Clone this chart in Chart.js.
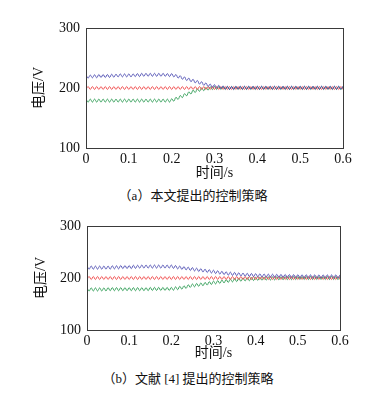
<!DOCTYPE html>
<html>
<head>
<meta charset="utf-8">
<script src="https://cdn.jsdelivr.net/npm/chart.js@4.4.0/dist/chart.umd.min.js"></script>
<style>
body{margin:0;background:#fff;}
#wrap{position:relative;width:379px;height:396px;overflow:hidden;}
canvas{position:absolute;left:0;}
.cap{position:absolute;width:300px;text-align:center;font-family:'Liberation Serif','Noto Sans CJK SC',serif;font-size:13px;line-height:16px;color:#111;white-space:nowrap;}
</style>
</head>
<body>
<div id="wrap">
<canvas id="c1" width="379" height="183" style="top:0px;width:379px;height:183px"></canvas>
<div class="cap" id="capA" style="left:43px;top:188px"></div>
<canvas id="c2" width="379" height="165" style="top:200px;width:379px;height:165px"></canvas>
<div class="cap" id="capB" style="left:38px;top:371px"></div>
</div>
<script>
// ---- data ----
const captionA = '（a）本文提出的控制策略';
const captionB = '（b）文献 [4] 提出的控制策略';
const xTitle = '时间/s';
const yTitle = '电压/V';
const xTicks = [0, 0.1, 0.2, 0.3, 0.4, 0.5, 0.6];
const xTickLabels = ['0', '0.1', '0.2', '0.3', '0.4', '0.5', '0.6'];
const yTicks = [100, 200, 300];
const yTickLabels = ['100', '200', '300'];

const times = [
0,0.005,0.01,0.015,0.02,0.025,0.03,0.035,0.04,0.045,
0.05,0.055,0.06,0.065,0.07,0.075,0.08,0.085,0.09,0.095,
0.1,0.105,0.11,0.115,0.12,0.125,0.13,0.135,0.14,0.145,
0.15,0.155,0.16,0.165,0.17,0.175,0.18,0.185,0.19,0.195,
0.2,0.205,0.21,0.215,0.22,0.225,0.23,0.235,0.24,0.245,
0.25,0.255,0.26,0.265,0.27,0.275,0.28,0.285,0.29,0.295,
0.3,0.305,0.31,0.315,0.32,0.325,0.33,0.335,0.34,0.345,
0.35,0.355,0.36,0.365,0.37,0.375,0.38,0.385,0.39,0.395,
0.4,0.405,0.41,0.415,0.42,0.425,0.43,0.435,0.44,0.445,
0.45,0.455,0.46,0.465,0.47,0.475,0.48,0.485,0.49,0.495,
0.5,0.505,0.51,0.515,0.52,0.525,0.53,0.535,0.54,0.545,
0.55,0.555,0.56,0.565,0.57,0.575,0.58,0.585,0.59,0.595,
0.6];

// (a) proposed strategy
const aBlue = [
221.5,216.5,221.5,217,222,217,222.5,217.5,222.5,217.5,
222.5,217.5,223,218,223,218.5,223.5,218.5,223.5,218.5,
223.5,218.5,223.5,219,224,219,224.5,219.5,224.5,219.5,
224.5,219.5,224.5,219.5,224.5,219.5,224.5,219.5,224,219,
224,218.5,222.5,216.5,220.5,214.5,218.5,212.5,216.5,210.5,
214.5,208.5,212.5,206.5,210.5,204.5,208.5,202.5,206.5,201,
205.5,200,204.5,199,203.5,198,202.8,197.5,202.5,197.5,
203,198,203,198,203,198,203,198,203,198,
203,198,203,198,203,198,203,198,203,198,
203,198,203,198,203,198,203,198,203,198,
203,198,203,198,203,198,203,198,203,198,
203,198,203,198,203,198,203,198,203,198,
203];
const aRed = [
197.5,202.5,197.5,202.5,197.5,202.5,197.5,202.5,197.5,202.5,
197.5,202.5,197.5,202.5,197.5,202.5,197.5,202.5,197.5,202.5,
197.5,202.5,197.5,202.5,197.5,202.5,197.5,202.5,197.5,202.5,
197.5,202.5,197.5,202.5,197.5,202.5,197.5,202.5,197.5,202.5,
197.5,202.5,197.5,202.5,197.5,202.5,197.5,202.5,197.5,202.5,
197.5,202.5,197.5,202.5,197.5,202.5,197.5,202.5,197.5,202.5,
197.5,202.5,197.5,202.5,197.5,202.5,197.5,202.5,197.5,202.5,
197.5,202.5,197.5,202.5,197.5,202.5,197.5,202.5,197.5,202.5,
197.5,202.5,197.5,202.5,197.5,202.5,197.5,202.5,197.5,202.5,
197.5,202.5,197.5,202.5,197.5,202.5,197.5,202.5,197.5,202.5,
197.5,202.5,197.5,202.5,197.5,202.5,197.5,202.5,197.5,202.5,
197.5,202.5,197.5,202.5,197.5,202.5,197.5,202.5,197.5,202.5,
197.5];
const aGreen = [
181.5,176.5,181.5,176.5,181.5,176.5,181.5,176.5,181.5,176.5,
181.5,176.5,181.5,176.5,181.5,176.5,181.5,176.5,181.5,176.5,
181.5,176.5,181.5,176.5,181.5,176.5,181.5,176.5,181.5,176.5,
181.5,176.5,181.5,176.5,181.5,176.5,181.5,176.5,181.5,176.5,
182,178,184.5,181,187.5,184,190.5,187,193.5,190,
196.5,192.5,198.5,194.5,200,195.5,201,196.5,202,197.3,
202.5,197.5,202.5,197.5,202.5,197.5,202.5,197.5,202.5,197.5,
202.5,197.5,202.5,197.5,202.5,197.5,202.5,197.5,202.5,197.5,
202.5,197.5,202.5,197.5,202.5,197.5,202.5,197.5,202.5,197.5,
202.5,197.5,202.5,197.5,202.5,197.5,202.5,197.5,202.5,197.5,
202.5,197.5,202.5,197.5,202.5,197.5,202.5,197.5,202.5,197.5,
202.5,197.5,202.5,197.5,202.5,197.5,202.5,197.5,202.5,197.5,
202.5];

// (b) strategy of ref [4]
const bBlue = [
223,217,223,217,223,217,223,217,223,217,
223,217,223.5,217.5,223.5,217.5,224,218,224,218,
224,218,224.5,218.5,224.5,219,225,219,225,219,
225,219,225,219,225,219,225,219,225,219,
225,218.5,224,217.5,223,216.5,222,215.5,221,214.5,
220,213.5,219,212.5,218,211.5,217,210.5,216,209.5,
215,208.5,214,207.5,213,206.5,212,205.5,211.3,205,
210.7,204.4,210.1,203.8,209.5,203.3,209.1,202.9,208.7,202.5,
208.3,202.1,208,201.8,207.7,201.6,207.5,201.4,207.3,201.2,
207.1,201,207,200.9,206.8,200.7,206.6,200.5,206.5,200.4,
206.4,200.3,206.3,200.2,206.2,200.1,206.1,200,206,200,
206,200,206,200,206,200,206,200,206,200,
206];
const bRed = [
197,203,197,203,197,203,197,203,197,203,
197,203,197,203,197,203,197,203,197,203,
197,203,197,203,197,203,197,203,197,203,
197,203,197,203,197,203,197,203,197,203,
197,203,197,203,197,203,197,203,197,203,
197,203,197,203,197,203,197,203,197,203,
197,203,197,203,197,203,197,203,197,203,
197,203,197,203,197,203,197,203,197,203,
197,203,197,203,197,203,197,203,197,203,
197,203,197,203,197,203,197,203,197,203,
197,203,197,203,197,203,197,203,197,203,
197,203,197,203,197,203,197,203,197,203,
197];
const bGreen = [
181,175,181,175,181,175,181,175,181,175,
181.5,175.5,181.5,175.5,181.5,175.5,181.5,175.5,181.5,175.5,
181.5,175.5,181.5,175.5,181.5,175.5,181.5,175.5,181.5,175.5,
182,176,182,176,182,176,182,176,182,176,
182,176.5,183,177.5,184,178.5,185,180,187,182,
188.5,183,189.5,184,190.5,185,191.5,186.5,193,187.5,
194,188.5,195,189.5,196,190.5,197,191.5,198,192.5,
198.8,193.1,199.4,193.7,200,194.3,200.5,194.7,200.9,195.1,
201.3,195.5,201.6,195.7,201.8,195.9,202,196.1,202.2,196.3,
202.4,196.5,202.5,196.6,202.6,196.7,202.7,196.8,202.8,196.9,
203,197,203,197,203,197,203,197,203,197,
203,197,203,197,203,197,203,197,203,197,
203];

// ---- drawing ----
document.getElementById('capA').textContent = captionA;
document.getElementById('capB').textContent = captionB;

const LATIN = "'Liberation Serif', 'Noto Sans CJK SC', serif";
const boxPlugin = {
  id: 'box',
  afterDraw(chart) {
    const {ctx, chartArea: a} = chart;
    ctx.save();
    ctx.strokeStyle = '#3a3a3a';
    ctx.lineWidth = 1;
    ctx.strokeRect(Math.round(a.left) + 0.5, Math.round(a.top) + 0.5,
                   Math.round(a.right - a.left), Math.round(a.bottom - a.top));
    ctx.restore();
  }
};

function pts(ys) { return ys.map((y, i) => ({x: times[i], y: y})); }

function makeChart(id, blue, red, green, L) {
  return new Chart(document.getElementById(id), {
    type: 'line',
    data: {
      datasets: [
        {data: pts(blue), borderColor: 'rgba(70,70,175,0.85)'},
        {data: pts(red), borderColor: 'rgba(240,75,75,0.85)'},
        {data: pts(green), borderColor: 'rgba(35,150,75,0.85)'}
      ].map(d => Object.assign(d, {borderWidth: 1, pointRadius: 0, tension: 0.4, fill: false}))
    },
    options: {
      responsive: false,
      animation: false,
      events: [],
      layout: {padding: {left: 0, top: L.top, right: L.right, bottom: 0}},
      plugins: {legend: {display: false}, tooltip: {enabled: false}},
      scales: {
        x: {
          type: 'linear', min: 0, max: 0.6,
          grid: {display: false, drawTicks: false},
          border: {display: false},
          afterBuildTicks: s => { s.ticks = xTicks.map(v => ({value: v})); },
          afterFit: s => { s.height = L.xh; },
          ticks: {
            padding: 3, color: '#111', maxRotation: 0, autoSkip: false,
            font: {family: LATIN, size: 14},
            callback: (v, i) => xTickLabels[i]
          },
          title: {display: true, text: xTitle, color: '#111',
                  font: {family: LATIN, size: 14}, padding: {top: 0, bottom: L.xtb}}
        },
        y: {
          min: 100, max: 300,
          grid: {display: false, drawTicks: false},
          border: {display: false},
          afterBuildTicks: s => { s.ticks = yTicks.map(v => ({value: v})); },
          afterFit: s => { s.width = L.left; },
          ticks: {
            padding: 6, color: '#111',
            font: {family: LATIN, size: 14},
            callback: (v, i) => yTickLabels[i]
          },
          title: {display: true, text: yTitle, color: '#111',
                  font: {family: LATIN, size: 14}, padding: {top: L.ytp, bottom: 0}}
        }
      }
    },
    plugins: [boxPlugin]
  });
}

makeChart('c1', aBlue, aRed, aGreen, {top: 28, right: 36, left: 86, xh: 35, xtb: 1.6, ytp: 30.6});
makeChart('c2', bBlue, bRed, bGreen, {top: 26, right: 39, left: 87, xh: 35, xtb: 3.6, ytp: 33});
</script>
</body>
</html>
